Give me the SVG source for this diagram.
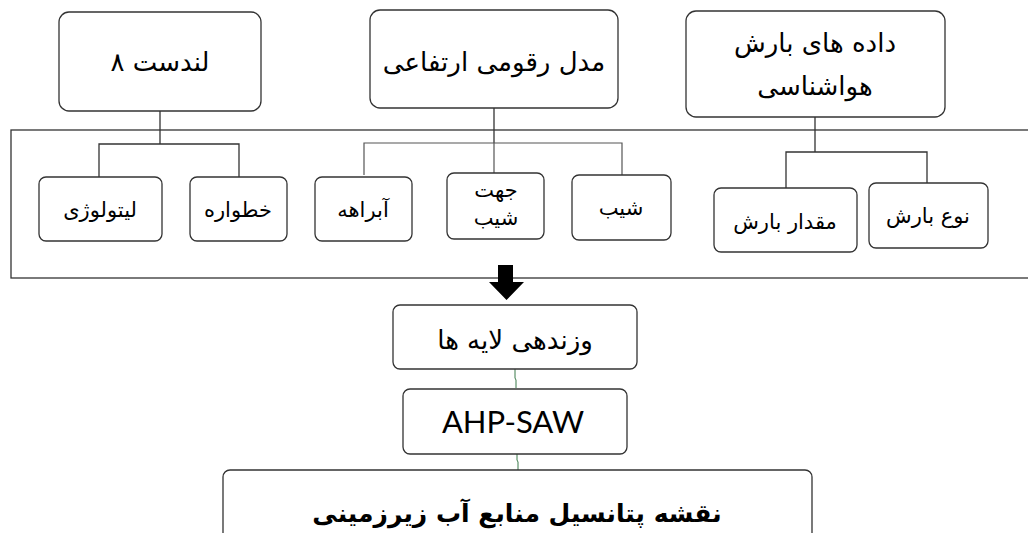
<svg xmlns="http://www.w3.org/2000/svg" width="1028" height="533" viewBox="0 0 1028 533">
<style>
.box{fill:#fff;stroke:#333;stroke-width:1.3}
.frame{fill:none;stroke:#333;stroke-width:1.3}
.ln{fill:none;stroke:#333;stroke-width:1.3}
.ln2{fill:none;stroke:#555;stroke-width:1.2}
.gr{fill:none;stroke:#3a7a4a;stroke-width:1}
.t{font-family:"DejaVu Sans",sans-serif;fill:#000;text-anchor:middle}
.big{font-size:26px}
.sm{font-size:21px}
.en{font-family:Lato,"Open Sans",sans-serif;font-size:31px;fill:#000;text-anchor:middle}
.bold{font-family:"DejaVu Sans",sans-serif;font-weight:bold;font-size:25px;fill:#000;text-anchor:middle}
</style>
<rect class="frame" x="11" y="130" width="1030" height="148"/>
<g id="connectors">
<path class="ln" d="M160 111V144M99 177V144H239V177"/>
<path class="ln" d="M494 108V143"/>
<path class="ln2" d="M364 175V143H622V175M494 143V173"/>
<path class="ln" d="M815 117V152M786 188V152H927V183"/>
<path d="M498 265H513V282H524L506.5 300L489 282H498Z" fill="#000"/>
<path class="gr" d="M515 369V378L516 380V388"/>
<path class="gr" d="M517 454V460L518 462V470"/>
</g>
<g id="n-landsat"><rect class="box" x="59" y="12" width="202" height="99" rx="10"/><text class="t big" x="160" y="71" direction="rtl" style="unicode-bidi:embed">لندست ۸</text></g>
<g id="n-dem"><rect class="box" x="370" y="10" width="248" height="98" rx="10"/><text class="t big" x="494" y="71">مدل رقومی ارتفاعی</text></g>
<g id="n-precip"><rect class="box" x="686" y="11" width="259" height="106" rx="10"/><text class="t big" x="815" y="52">داده های بارش</text><text class="t big" x="815" y="95">هواشناسی</text></g>
<g id="n-litho"><rect class="box" x="39" y="177" width="123" height="64" rx="7"/><text class="t sm" x="100" y="217">لیتولوژی</text></g>
<g id="n-lineament"><rect class="box" x="190" y="177" width="97" height="64" rx="7"/><text class="t sm" x="238" y="217">خطواره</text></g>
<g id="n-drainage"><rect class="box" x="315" y="177" width="97" height="64" rx="7"/><text class="t sm" x="363" y="217">آبراهه</text></g>
<g id="n-aspect"><rect class="box" x="447" y="173" width="97" height="66" rx="7"/><text class="t sm" x="496" y="197">جهت</text><text class="t sm" x="496" y="225">شیب</text></g>
<g id="n-slope"><rect class="box" x="572" y="175" width="99" height="65" rx="7"/><text class="t sm" x="621" y="215">شیب</text></g>
<g id="n-amount"><rect class="box" x="714" y="188" width="143" height="64" rx="7"/><text class="t sm" x="785" y="229">مقدار بارش</text></g>
<g id="n-type"><rect class="box" x="869" y="183" width="119" height="65" rx="7"/><text class="t sm" x="928" y="223">نوع بارش</text></g>
<g id="n-weight"><rect class="box" x="393" y="305" width="244" height="64" rx="7"/><text class="t big" x="515" y="349">وزندهی لایه ها</text></g>
<g id="n-ahp"><rect class="box" x="403" y="389" width="224" height="65" rx="7"/><text class="en" x="513" y="433">AHP-SAW</text></g>
<g id="n-map"><rect class="box" x="223" y="470" width="589" height="80" rx="7"/><text class="bold" x="517" y="522">نقشه پتانسیل منابع آب زیرزمینی</text></g>
</svg>
